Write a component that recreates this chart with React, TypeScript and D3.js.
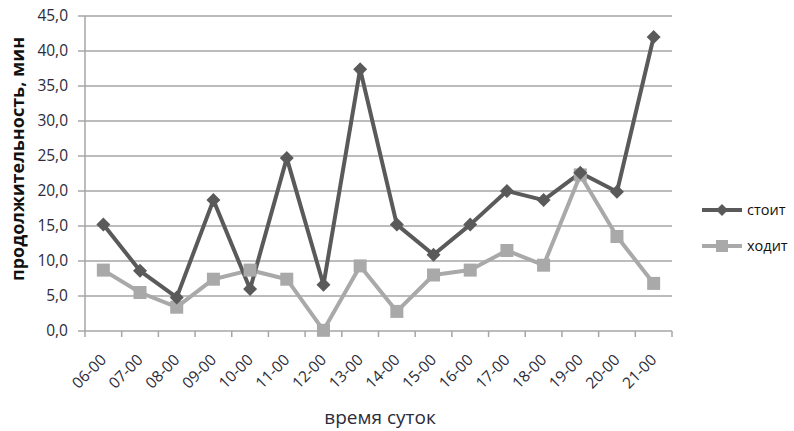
import React from "react";
import * as d3 from "d3";

// Time-of-day categories and two duration series (minutes)
const categories = [
  "06-00", "07-00", "08-00", "09-00", "10-00", "11-00", "12-00", "13-00",
  "14-00", "15-00", "16-00", "17-00", "18-00", "19-00", "20-00", "21-00",
];
const standing = [15.2, 8.6, 4.8, 18.7, 6.0, 24.7, 6.6, 37.4, 15.2, 10.9, 15.2, 20.0, 18.7, 22.6, 19.9, 42.0];
const walking = [8.7, 5.5, 3.4, 7.4, 8.7, 7.4, 0.1, 9.3, 2.8, 8.0, 8.7, 11.5, 9.4, 22.3, 13.5, 6.8];
const yTicks = [0, 5, 10, 15, 20, 25, 30, 35, 40, 45];
const seriesNames = ["стоит", "ходит"];

const W = 794;
const H = 431;
const plot = { left: 85, right: 672, top: 16, bottom: 331 };
const dark = "#5a5a5a";
const light = "#a9a9a9";
const grid = "#a6a6a6";
const font = "'Open Sans', 'DejaVu Sans', sans-serif";

export default function App() {
  const x = d3.scaleBand<string>().domain(categories).range([plot.left, plot.right]);
  const y = d3.scaleLinear().domain([0, 45]).range([plot.bottom, plot.top]);
  const cx = (c: string) => (x(c) ?? 0) + x.bandwidth() / 2;

  const line = d3
    .line<number>()
    .x((_, i) => cx(categories[i]))
    .y((v) => y(v));

  const fmt = (v: number) => v.toFixed(1).replace(".", ",");

  const diamond = (px: number, py: number, r: number) =>
    `M${px},${py - r}L${px + r},${py}L${px},${py + r}L${px - r},${py}Z`;

  const boundaries = categories.map((c) => x(c) ?? 0).concat([plot.right]);

  return (
    <svg
      width={W}
      height={H}
      style={{ position: "absolute", left: 0, top: 0, background: "#fff" }}
      fontFamily={font}
    >
      {/* horizontal gridlines and y tick labels */}
      {yTicks.map((t) => (
        <g key={t}>
          <line x1={plot.left - 7} x2={plot.right} y1={y(t)} y2={y(t)} stroke={grid} strokeWidth={1.5} />
          <text x={plot.left - 17} y={y(t)} dy="0.35em" textAnchor="end" fontSize={15.5} fill="#2b2b3a">
            {fmt(t)}
          </text>
        </g>
      ))}
      {/* axes */}
      <line x1={plot.left} x2={plot.left} y1={plot.top} y2={plot.bottom} stroke={grid} strokeWidth={1.5} />
      {boundaries.map((b, i) => (
        <line key={i} x1={b} x2={b} y1={plot.bottom} y2={plot.bottom + 6} stroke={grid} strokeWidth={1.5} />
      ))}
      {/* category labels */}
      {categories.map((c) => (
        <text
          key={c}
          transform={`translate(${cx(c)},${plot.bottom + 26}) rotate(-45)`}
          textAnchor="end"
          dy="0.35em"
          fontSize={15.5}
          fill="#2b2b3a"
        >
          {c}
        </text>
      ))}
      {/* series lines */}
      <path d={line(walking) ?? ""} fill="none" stroke={light} strokeWidth={4} strokeLinejoin="round" />
      <path d={line(standing) ?? ""} fill="none" stroke={dark} strokeWidth={4} strokeLinejoin="round" />
      {walking.map((v, i) => (
        <rect key={i} x={cx(categories[i]) - 6.5} y={y(v) - 6.5} width={13} height={13} fill={light} />
      ))}
      {standing.map((v, i) => (
        <path key={i} d={diamond(cx(categories[i]), y(v), 7)} fill={dark} />
      ))}
      {/* axis titles */}
      <text
        transform={`translate(18,159) rotate(-90)`}
        textAnchor="middle"
        dy="0.35em"
        fontSize={18}
        fontWeight="bold"
        fill="#111"
      >
        продолжительность, мин
      </text>
      <text x={380} y={424} textAnchor="middle" fontSize={19} fill="#2b2b3a">
        время суток
      </text>
      {/* legend */}
      {seriesNames.map((n, i) => {
        const ly = 210 + i * 36;
        const col = i === 0 ? dark : light;
        return (
          <g key={n}>
            <line x1={702} x2={742} y1={ly} y2={ly} stroke={col} strokeWidth={4} />
            {i === 0 ? (
              <path d={diamond(722, ly, 6)} fill={col} />
            ) : (
              <rect x={716} y={ly - 6} width={12} height={12} fill={col} />
            )}
            <text x={747} y={ly} dy="0.35em" fontSize={14.5} fill="#111">
              {n}
            </text>
          </g>
        );
      })}
    </svg>
  );
}
